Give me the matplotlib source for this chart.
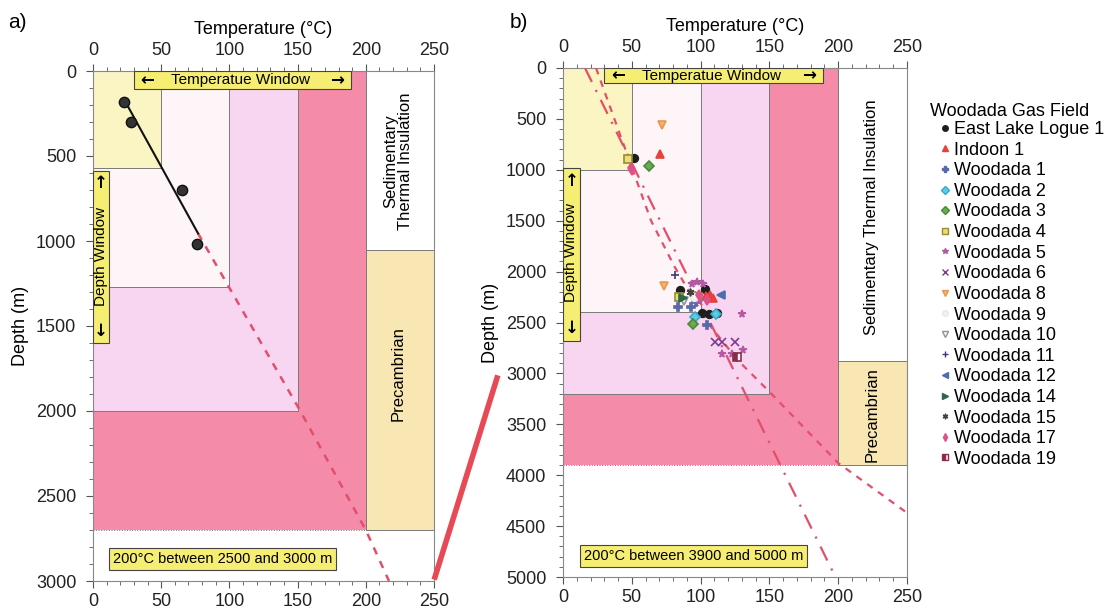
import numpy as np
import matplotlib.pyplot as plt
from matplotlib.patches import Rectangle
from matplotlib.lines import Line2D

plt.rcParams['font.family'] = ['Liberation Sans', 'DejaVu Sans']

# --- panel a data ---
a_temp = [23, 28, 65, 76]
a_depth = [180, 300, 700, 1020]
a_fit_t = [24, 77]
a_fit_z = [185, 955]
a_ext_t = [77, 152, 200, 217]
a_ext_z = [955, 2000, 2700, 3000]

# region limits: yellow, very light, light pink, hot pink depths; sediment/precambrian split
a_bounds = [570, 1270, 2000, 2700]
a_split = 1050
b_bounds = [1000, 2400, 3200, 3900]
b_split = 2880

# --- panel b lines ---
b_dashdot_t = [16, 198]
b_dashdot_z = [0, 5000]
b_dash_t = [24, 48, 64, 81, 105, 127, 150, 200, 250]
b_dash_z = [0, 900, 1500, 1950, 2500, 2870, 3180, 3880, 4370]

# --- panel b wells ---
wells = ['East Lake Logue 1', 'Indoon 1', 'Woodada 1', 'Woodada 2', 'Woodada 3',
         'Woodada 4', 'Woodada 5', 'Woodada 6', 'Woodada 8', 'Woodada 9',
         'Woodada 10', 'Woodada 11', 'Woodada 12', 'Woodada 14', 'Woodada 15',
         'Woodada 17', 'Woodada 19']
well_t = [
    [51.6, 85, 103, 101, 106, 112],
    [70.5, 104, 107, 109],
    [83.5, 93, 97, 104.5],
    [96, 111.5],
    [62.5, 94.7],
    [47.5, 84.5, 98.3],
    [93.5, 97.5, 101.5, 99, 130, 115.5, 122.5, 130.5],
    [110.5, 115.5, 125],
    [71.7, 73.5],
    [95],
    [88],
    [81.4],
    [114.5],
    [87.5],
    [92],
    [49.2, 50.5, 105, 99],
    [126.3],
]
well_z = [
    [887, 2181, 2170, 2410, 2420, 2410],
    [840, 2240, 2225, 2260],
    [2350, 2350, 2300, 2525],
    [2450, 2420],
    [962, 2510],
    [897, 2252, 2252],
    [2120, 2105, 2125, 2280, 2415, 2805, 2805, 2770],
    [2690, 2690, 2690],
    [560, 2140],
    [2250],
    [2290],
    [2033],
    [2230],
    [2262],
    [2200],
    [985, 1000, 2280, 2230],
    [2836],
]
well_marker = ['o', '^', 'P', 'D', 'D', 's', '*', 'x', 'v', 'o',
               'v', '+', '<', '>', (6, 2, 0), 'd', 's']
well_fill = ['full'] * 16 + ['left']
well_color = ['#1e1e1e', '#e8413c', '#5a68a8', '#5accE6', '#6aaa50', '#e8e070',
              '#b45aa5', '#7d3c8c', '#f4b070', '#f2f2f2', '#ffffff', '#3c3c70',
              '#4a6eb0', '#2a6848', '#404040', '#e0508a', '#8a2e48']
well_edge = ['#1e1e1e', '#e8413c', '#5a68a8', '#3aa8c8', '#4a8a38', '#9a8a3a',
             '#b45aa5', '#7d3c8c', '#e89850', '#e8e8e8', '#9090a0', '#3c3c70',
             '#4a6eb0', '#2a6848', '#404040', '#e0508a', '#8a2e48']

HOT = '#f48ba9'
LPINK = '#f8d6f1'
VLIGHT = '#fdf5f7'
LYEL = '#fbf5c4'
TAN = '#f9e7b3'
BOXY = '#f6ee72'
LINE_RED = '#e24f6a'
EDGE = '#7a7a7a'
ARROW_FONT = ['DejaVu Sans']


def draw_panel(ax, bounds, split, zmax, zmajor):
    ax.add_patch(Rectangle((0, 0), 200, bounds[3], fc=HOT, ec='none', zorder=1))
    ax.add_patch(Rectangle((0, 0), 150, bounds[2], fc=LPINK, ec=EDGE, lw=0.7, zorder=1))
    ax.add_patch(Rectangle((0, 0), 100, bounds[1], fc=VLIGHT, ec=EDGE, lw=0.7, zorder=1))
    ax.add_patch(Rectangle((0, 0), 50, bounds[0], fc=LYEL, ec=EDGE, lw=0.7, zorder=1))
    ax.add_patch(Rectangle((200, split), 50, bounds[3] - split, fc=TAN, ec=EDGE, lw=0.7, zorder=1))
    ax.plot([0, 200], [bounds[3], bounds[3]], color=EDGE, lw=0.7, ls=':', zorder=1)
    ax.plot([200, 200], [0, bounds[3]], color=EDGE, lw=0.7, zorder=1)
    ax.set_xlim(0, 250)
    ax.set_ylim(zmax, 0)
    ax.set_xticks(np.arange(0, 251, 50))
    ax.set_xticks(np.arange(0, 251, 10), minor=True)
    ax.set_yticks(np.arange(0, zmax + 1, zmajor))
    ax.set_yticks(np.arange(0, zmax + 1, 100), minor=True)
    ax.tick_params(which='both', top=True, labeltop=True, bottom=True, labelbottom=True,
                   colors='#555555', labelcolor='#222222', labelsize=13)
    ax.tick_params(which='major', length=5)
    ax.tick_params(which='minor', length=3)
    ax.tick_params(axis='y', which='major', pad=7)
    for s in ax.spines.values():
        s.set_color('#888888')
        s.set_linewidth(0.8)
    ax.xaxis.set_label_position('top')
    ax.set_xlabel('Temperature (°C)', fontsize=13, labelpad=6)
    ax.set_ylabel('Depth (m)', fontsize=13, labelpad=5)


def window_boxes(ax, ztop, zbot, d_up, d_text, d_down, tw_h):
    ax.add_patch(Rectangle((30, 0), 159, tw_h, fc=BOXY, ec='#444444', lw=0.8, zorder=3))
    yc = tw_h / 2
    ax.text(40, yc, '←', ha='center', va='center', fontsize=12, fontweight='bold',
            family=ARROW_FONT, zorder=4)
    ax.text(108, yc, 'Temperatue Window', ha='center', va='center', fontsize=11, zorder=4)
    ax.text(179, yc, '→', ha='center', va='center', fontsize=12, fontweight='bold',
            family=ARROW_FONT, zorder=4)
    ax.add_patch(Rectangle((0, ztop), 12, zbot - ztop, fc=BOXY, ec='#444444', lw=0.8, zorder=3))
    ax.text(6, d_up, '↑', ha='center', va='center', fontsize=12, fontweight='bold',
            family=ARROW_FONT, zorder=4)
    ax.text(6, d_text, 'Depth Window', ha='center', va='center', rotation=90, fontsize=11, zorder=4)
    ax.text(6, d_down, '↓', ha='center', va='center', fontsize=12, fontweight='bold',
            family=ARROW_FONT, zorder=4)


fig = plt.figure(figsize=(11.1, 6.08), dpi=100)
ax1 = fig.add_axes([93 / 1110, 1 - 581 / 608, 341 / 1110, 510 / 608])
ax2 = fig.add_axes([563 / 1110, 1 - 577 / 608, 344 / 1110, 509 / 608])

# panel a
draw_panel(ax1, a_bounds, a_split, 3000, 500)
window_boxes(ax1, 590, 1600, 660, 1090, 1530, 105)
ax1.plot(a_ext_t, a_ext_z, color=LINE_RED, lw=1.8, ls=(0, (3, 3)), zorder=4)
ax1.plot(a_fit_t, a_fit_z, color='#111111', lw=1.5, zorder=5)
ax1.scatter(a_temp, a_depth, s=55, color='#333333', edgecolor='#111111', zorder=6)
ax1.text(223.5, 530, 'Sedimentary\nThermal Insulation', rotation=90, ha='center',
         va='center', fontsize=12, linespacing=1.0, zorder=4)
ax1.text(223.5, 1780, 'Precambrian', rotation=90, ha='center', va='center', fontsize=12, zorder=4)
ax1.text(95, 2870, '200°C between 2500 and 3000 m', ha='center', va='center', fontsize=10.5,
         zorder=4, bbox=dict(boxstyle='square,pad=0.25', fc=BOXY, ec='#444444', lw=0.8))

# panel b
draw_panel(ax2, b_bounds, b_split, 5000, 500)
window_boxes(ax2, 980, 2680, 1110, 1815, 2550, 150)
ax2.plot(b_dashdot_t, b_dashdot_z, color=LINE_RED, lw=1.6, ls=(0, (7, 4, 1, 4)), zorder=4)
ax2.plot(b_dash_t, b_dash_z, color=LINE_RED, lw=1.6, ls=(0, (3, 3)), zorder=4)
for t, z, m, fs, c, e in zip(well_t, well_z, well_marker, well_fill, well_color, well_edge):
    ax2.plot(t, z, ls='none', marker=m, markersize=5.5, fillstyle=fs, markerfacecolor=c,
             markerfacecoloralt='white', markeredgecolor=e, markeredgewidth=1.2, zorder=5)
ax2.text(224, 1470, 'Sedimentary Thermal Insulation', rotation=90, ha='center',
         va='center', fontsize=12, zorder=4)
ax2.text(224.5, 3400, 'Precambrian', rotation=90, ha='center', va='center', fontsize=12, zorder=4)
ax2.text(95, 4795, '200°C between 3900 and 5000 m', ha='center', va='center', fontsize=10.5,
         zorder=4, bbox=dict(boxstyle='square,pad=0.25', fc=BOXY, ec='#444444', lw=0.8))

# legend
handles = []
for name, m, fs, c, e in zip(wells, well_marker, well_fill, well_color, well_edge):
    handles.append(Line2D([], [], ls='none', marker=m, markersize=4, fillstyle=fs,
                          markerfacecolor=c, markerfacecoloralt='white',
                          markeredgecolor=e, color=c, label=name))
fig.text(930 / 1110, 1 - 112 / 608, 'Woodada Gas Field', fontsize=13, ha='left', va='center')
fig.legend(handles=handles, loc='upper left', bbox_to_anchor=(940 / 1110, 1 - 121 / 608),
           frameon=False, fontsize=13, handlelength=0.5, handletextpad=0.25,
           labelspacing=0.2, borderpad=0, borderaxespad=0)

fig.text(8 / 1110, 1 - 22 / 608, 'a)', fontsize=15, ha='left', va='center')
fig.text(510 / 1110, 1 - 22 / 608, 'b)', fontsize=15, ha='left', va='center')

# connector line between panels
fig.add_artist(Line2D([435 / 1110, 497 / 1110], [1 - 577 / 608, 1 - 378 / 608],
                      color='#e84a55', lw=4, transform=fig.transFigure))

fig.savefig('out.png', dpi=100)
